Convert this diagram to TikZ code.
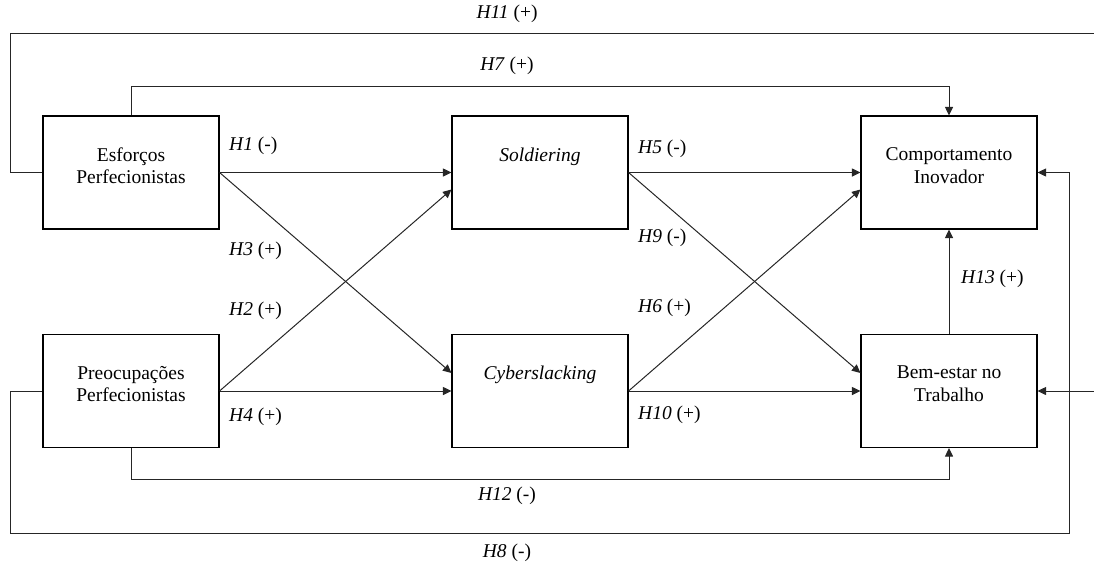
\documentclass[tikz,border=0pt]{standalone}
\usepackage{fontspec}
\setmainfont{Liberation Serif}
\usetikzlibrary{arrows.meta,calc}
\tikzset{
  var/.style={draw=black, line width=1.1pt, rectangle, minimum width=176pt, minimum height=113pt, inner sep=0pt},
  vartext/.style={align=center, anchor=north, inner sep=0pt, font=\fontsize{19.5}{22.5}\selectfont},
  hyp/.style={inner sep=0pt, font=\fontsize{19.5}{22.5}\selectfont},
  conn/.style={draw=black!85, line width=1pt},
  arr/.style={conn, -{Triangle[length=8.5pt,width=8pt]}}
}
\begin{document}
\begin{tikzpicture}[x=1pt,y=-1pt]
\useasboundingbox (0,0) rectangle (1094,568);
% boxes
\node[var] (esf) at (131,172.5) {};
\node[var] (preo) at (131,391) {};
\node[var] (sold) at (540,172.5) {};
\node[var] (cyber) at (540,391) {};
\node[var] (comp) at (949,172.5) {};
\node[var] (bem) at (949,391) {};
% box texts
\node[vartext] (esft) at ($(esf.north)+(0,32)$) {Esforços\\Perfecionistas};
\node[vartext] (preot) at ($(preo.north)+(0,32)$) {Preocupações\\Perfecionistas};
\node[vartext] (soldt) at ($(sold.north)+(0,32)$) {\itshape Soldiering};
\node[vartext] (cybert) at ($(cyber.north)+(0,32)$) {\itshape Cyberslacking};
\node[vartext] (compt) at ($(comp.north)+(0,32)$) {Comportamento\\Inovador};
\node[vartext] (bemt) at ($(bem.north)+(0,32)$) {Bem-estar no\\Trabalho};
% coordinates
\coordinate (c3) at ($(cyber.west)+(0,-18)$);
\coordinate (s2) at ($(sold.west)+(0,17)$);
\coordinate (b9) at ($(bem.west)+(0,-18)$);
\coordinate (c6) at ($(comp.west)+(0,17)$);
\coordinate (l11) at (10,33);
\coordinate (r11) at (1094,33);
\coordinate (r11b) at (1094,391);
\coordinate (l8) at (10,533);
\coordinate (r8) at (1069,533);
% connectors
\draw[arr] (esf.east) -- (sold.west);
\draw[arr] (esf.east) -- (c3);
\draw[arr] (preo.east) -- (s2);
\draw[arr] (preo.east) -- (cyber.west);
\draw[arr] (sold.east) -- (comp.west);
\draw[arr] (sold.east) -- (b9);
\draw[arr] (cyber.east) -- (c6);
\draw[arr] (cyber.east) -- (bem.west);
\draw[arr] (bem.north) -- (comp.south);
\draw[arr] (esf.north) -- ++(0,-29) -| (comp.north);
\draw[arr] (preo.south) -- ++(0,31) -| (bem.south);
\draw[conn] (esf.west) -| (l11) -- (r11);
\draw[arr] (r11b) -- (bem.east);
\draw[arr] (preo.west) -| (l8) -- (r8) |- (comp.east);
% labels
\node[hyp] (h11) at (507,14) {\textit{H11} (+)};
\node[hyp] (h7) at (507,66) {\textit{H7} (+)};
\node[hyp,anchor=west] (h1) at (229,146) {\textit{H1} (-)};
\node[hyp,anchor=west] (h3) at (229,251) {\textit{H3} (+)};
\node[hyp,anchor=west] (h2) at (229,311) {\textit{H2} (+)};
\node[hyp,anchor=west] (h4) at (229,417) {\textit{H4} (+)};
\node[hyp,anchor=west] (h5) at (638,149) {\textit{H5} (-)};
\node[hyp,anchor=west] (h9) at (638,238) {\textit{H9} (-)};
\node[hyp,anchor=west] (h6) at (638,308) {\textit{H6} (+)};
\node[hyp,anchor=west] (h10) at (638,415) {\textit{H10} (+)};
\node[hyp,anchor=west] (h13) at (961,279) {\textit{H13} (+)};
\node[hyp] (h12) at (507,496) {\textit{H12} (-)};
\node[hyp] (h8) at (507,553) {\textit{H8} (-)};
\end{tikzpicture}
\end{document}
